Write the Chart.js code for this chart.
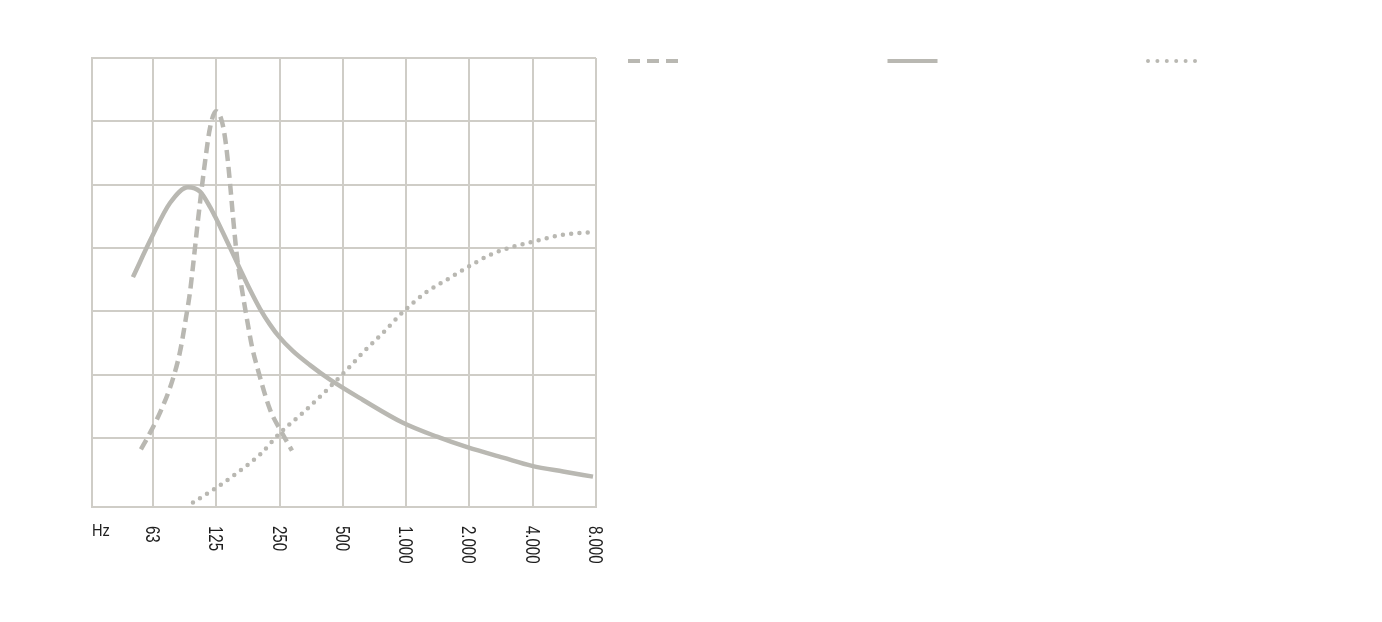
<!DOCTYPE html>
<html lang="de">
<head>
<meta charset="utf-8">
<title>Frequenzgang</title>
<script src="https://cdn.jsdelivr.net/npm/chart.js@4.4.1/dist/chart.umd.min.js"></script>
<style>
    html, body { margin: 0; padding: 0; background: #fff; overflow: hidden; }
    .chart-wrap { position: relative; width: 1382px; height: 622px; }
</style>
</head>
<body>
<div class="chart-wrap"><canvas id="chart"></canvas></div>
<script>
// Axis ticks (octave band centres)
const freqMin = 32;
const freqMax = 8000;
const tickFreqs = [62.5, 125, 250, 500, 1000, 2000, 4000, 8000];
const tickLabels = ['63', '125', '250', '500', '1.000', '2.000', '4.000', '8.000'];
const axisUnit = 'Hz';
const levelTicks = [-0.09, 1, 2, 3, 4, 5, 6, 7];

// Dashed curve (narrow resonance)
const dashedFreq = [54.7, 59.1, 67.4, 76.9, 83.9, 89.6, 93.6, 96.8, 102.2, 106.8, 111.6, 116.6, 124.5,
    133.0, 138.9, 145.1, 150.0, 156.7, 165.5, 174.9, 184.7, 195.1, 224.9, 256.5, 286.2];
const dashedLevel = [0.82, 1.02, 1.40, 1.89, 2.36, 2.90, 3.30, 3.72, 4.44, 4.98, 5.48, 5.90, 6.16,
    5.99, 5.63, 5.03, 4.49, 3.86, 3.34, 2.87, 2.44, 2.13, 1.45, 1.08, 0.80];

// Solid curve (broad peak, long decay)
const solidFreq = [50.1, 61.8, 75.2, 91.6, 104.5, 116.5, 123.1, 134.4, 148.3, 161.9, 180.7,
    201.6, 224.9, 248.3, 289.4, 348.7, 434.2, 623, 965, 1402, 1968, 2889, 3968, 5574, 7741];
const solidLevel = [3.54, 4.18, 4.71, 4.96, 4.89, 4.65, 4.50, 4.24, 3.94, 3.67, 3.34,
    3.04, 2.79, 2.60, 2.37, 2.15, 1.92, 1.60, 1.24, 1.02, 0.85, 0.69, 0.56, 0.47, 0.39];

// Dotted curve (rising towards high frequencies)
const dottedFreq = [96.7, 125.8, 156.8, 201.7, 251.1, 323.0, 420.0, 540.3, 623.1, 775.5,
    965.6, 1256, 1563, 1945, 2502, 3221, 4010, 5569, 7740];
const dottedLevel = [-0.02, 0.22, 0.45, 0.74, 1.08, 1.40, 1.76, 2.13, 2.35, 2.66,
    2.99, 3.31, 3.50, 3.69, 3.89, 4.02, 4.10, 4.21, 4.25];

const colors = {
    line: '#b9b8b2',
    grid: '#cfcdc7',
    text: '#1e1e1e'
};

const toPoints = (xs, ys) => xs.map((x, i) => ({ x: x, y: ys[i] }));

// Legend samples (no text in the original)
const legendSamples = {
    id: 'legendSamples',
    afterDraw(chart) {
        const ctx = chart.ctx;
        const left = chart.chartArea.right + 32;
        const y = chart.chartArea.top + 3;
        chart.data.datasets.forEach((ds, i) => {
            const x0 = left + i * 259.5;
            ctx.save();
            ctx.strokeStyle = ds.borderColor;
            ctx.lineWidth = 4;
            ctx.lineCap = ds.borderCapStyle || 'butt';
            ctx.setLineDash(ds.legendDash || ds.borderDash || []);
            ctx.beginPath();
            ctx.moveTo(x0 + (ds.legendInset || 0), y);
            ctx.lineTo(x0 + 50, y);
            ctx.stroke();
            ctx.restore();
        });
    }
};

// Rotated frequency labels under the grid (condensed look via horizontal scaling)
const freqLabels = {
    id: 'freqLabels',
    afterDraw(chart) {
        const ctx = chart.ctx;
        const scale = chart.scales.x;
        const top = chart.chartArea.bottom + 19;
        ctx.save();
        ctx.fillStyle = colors.text;
        ctx.textBaseline = 'alphabetic';
        ctx.textAlign = 'left';

        ctx.save();
        ctx.font = '17px "Liberation Sans", Arial, sans-serif';
        ctx.translate(chart.chartArea.left, top + 10);
        ctx.scale(0.86, 1);
        ctx.fillText(axisUnit, 0, 0);
        ctx.restore();

        ctx.font = '20px "Liberation Sans", Arial, sans-serif';
        tickFreqs.forEach((f, i) => {
            const x = scale.getPixelForValue(f);
            ctx.save();
            ctx.translate(x - 7, top);
            ctx.rotate(Math.PI / 2);
            ctx.scale(0.75, 1);
            ctx.fillText(tickLabels[i], 0, 0);
            ctx.restore();
        });
        ctx.restore();
    }
};

const chart = new Chart(document.getElementById('chart'), {
    type: 'line',
    data: {
        datasets: [
            {
                data: toPoints(dashedFreq, dashedLevel),
                borderColor: colors.line,
                borderWidth: 4.5,
                borderDash: [11, 6],
                legendDash: [12, 7]
            },
            {
                data: toPoints(solidFreq, solidLevel),
                borderColor: colors.line,
                borderWidth: 4.5
            },
            {
                data: toPoints(dottedFreq, dottedLevel),
                borderColor: colors.line,
                borderWidth: 4.5,
                borderCapStyle: 'round',
                borderDash: [0, 8.3],
                legendDash: [0, 9.4],
                legendInset: 1
            }
        ]
    },
    options: {
        responsive: true,
        maintainAspectRatio: false,
        animation: false,
        layout: {
            padding: { left: 92, top: 58, right: 786, bottom: 115 }
        },
        elements: {
            point: { radius: 0, hoverRadius: 0 },
            line: { cubicInterpolationMode: 'monotone' }
        },
        plugins: {
            legend: { display: false },
            tooltip: { enabled: false }
        },
        scales: {
            x: {
                type: 'logarithmic',
                min: freqMin,
                max: freqMax,
                afterBuildTicks(scale) {
                    scale.ticks = tickFreqs.map(v => ({ value: v }));
                },
                ticks: { display: false },
                grid: { color: colors.grid, lineWidth: 2, drawTicks: false },
                border: { color: colors.grid, width: 2 }
            },
            y: {
                type: 'linear',
                min: -0.09,
                max: 7,
                afterBuildTicks(scale) {
                    scale.ticks = levelTicks.map(v => ({ value: v }));
                },
                ticks: { display: false },
                grid: { color: colors.grid, lineWidth: 2, drawTicks: false },
                border: { color: colors.grid, width: 2 }
            }
        }
    },
    plugins: [legendSamples, freqLabels]
});
</script>
</body>
</html>
